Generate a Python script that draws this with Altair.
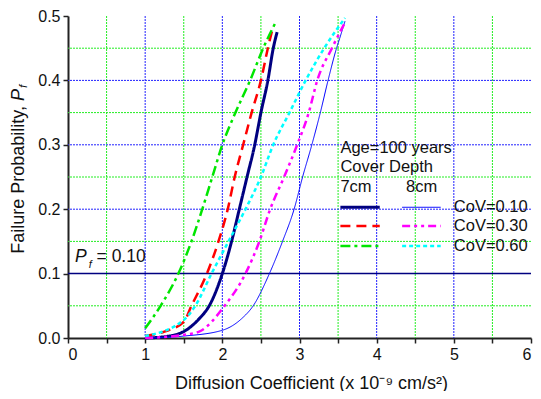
import altair as alt
import pandas as pd

FONT = "Liberation Sans, Arial, sans-serif"

# ---- data ----
series_names = ["7cm CoV=0.10", "7cm CoV=0.30", "7cm CoV=0.60",
                "8cm CoV=0.10", "8cm CoV=0.30", "8cm CoV=0.60"]

x_7_010 = [1.0, 1.25, 1.5, 1.7, 1.83, 2.0, 2.12, 2.22, 2.32, 2.42, 2.5, 2.59, 2.66, 2.71]
y_7_010 = [0.0, 0.002, 0.01, 0.03, 0.05, 0.1, 0.15, 0.2, 0.25, 0.3, 0.35, 0.4, 0.45, 0.475]

x_7_030 = [1.0, 1.25, 1.5, 1.6, 1.8, 1.95, 2.07, 2.16, 2.27, 2.38, 2.5, 2.59, 2.65]
y_7_030 = [0.003, 0.01, 0.025, 0.05, 0.1, 0.15, 0.2, 0.25, 0.3, 0.35, 0.4, 0.45, 0.48]

x_7_060 = [1.0, 1.2, 1.43, 1.6, 1.74, 1.87, 2.0, 2.17, 2.36, 2.53, 2.69]
y_7_060 = [0.015, 0.05, 0.1, 0.15, 0.2, 0.25, 0.3, 0.35, 0.4, 0.45, 0.49]

x_8_010 = [1.0, 1.5, 2.0, 2.25, 2.4, 2.61, 2.78, 2.93, 3.04, 3.16, 3.27, 3.37, 3.48, 3.52, 3.59]
y_8_010 = [0.0, 0.003, 0.012, 0.03, 0.05, 0.1, 0.15, 0.2, 0.25, 0.3, 0.35, 0.4, 0.45, 0.465, 0.492]

x_8_030 = [1.0, 1.5, 1.7, 2.03, 2.3, 2.48, 2.62, 2.8, 2.97, 3.12, 3.23, 3.42, 3.59]
y_8_030 = [0.0, 0.005, 0.01, 0.05, 0.1, 0.15, 0.2, 0.25, 0.3, 0.35, 0.4, 0.45, 0.49]

x_8_060 = [1.0, 1.5, 1.65, 1.86, 2.08, 2.3, 2.5, 2.66, 2.87, 3.08, 3.32, 3.59]
y_8_060 = [0.003, 0.028, 0.05, 0.1, 0.15, 0.2, 0.25, 0.3, 0.35, 0.4, 0.45, 0.497]

grid_major_x = [1, 2, 3, 4, 5]
grid_minor_x = [0.5, 1.5, 2.5, 3.5, 4.5, 5.5]
grid_major_y = [0.2, 0.3, 0.4]
grid_minor_y = [0.05, 0.15, 0.25, 0.35, 0.45]
pf_level = [0.1]

x_ticks = [0, 0.5, 1, 1.5, 2, 2.5, 3, 3.5, 4, 4.5, 5, 5.5, 6]
y_ticks = [0.0, 0.1, 0.2, 0.3, 0.4, 0.5]

cov_labels = ["CoV=0.10", "CoV=0.30", "CoV=0.60"]

# ---- styles ----
colors = ["#000080", "#ff0000", "#00e600", "#0000ff", "#ff00ff", "#00ffff"]
dashes = [[1, 0], [10, 6], [10, 4, 3, 4], [1, 0], [8, 4, 3, 4, 3, 4], [4, 3]]
widths = [3, 2.5, 2.5, 1, 2.5, 2.5]

xs_all = [x_7_010, x_7_030, x_7_060, x_8_010, x_8_030, x_8_060]
ys_all = [y_7_010, y_7_030, y_7_060, y_8_010, y_8_030, y_8_060]

XAX = alt.Axis(values=x_ticks,
               labelExpr="datum.value % 1 == 0 ? format(datum.value, 'd') : ''",
               title="Diffusion Coefficient (x 10⁻⁹ cm/s²)", titleX=243)
YAX = alt.Axis(values=y_ticks, format=".1f", title=None)
xscale = alt.Scale(domain=[0, 6], nice=False, zero=False)
yscale = alt.Scale(domain=[0, 0.5], nice=False, zero=False)


def X(f="x"):
    return alt.X(f"{f}:Q", scale=xscale, axis=XAX)


def Y(f="y"):
    return alt.Y(f"{f}:Q", scale=yscale, axis=YAX)


def vgrid(vals, color):
    return alt.Chart(pd.DataFrame({"x": vals})).mark_rule(
        color=color, strokeWidth=1, strokeDash=[2, 1]
    ).encode(x=X())


def hgrid(vals, color, dash=None, width=1):
    kw = {"color": color, "strokeWidth": width}
    if dash is not None:
        kw["strokeDash"] = dash
    return alt.Chart(pd.DataFrame({"y": vals})).mark_rule(**kw).encode(y=Y())


grids = [vgrid(grid_minor_x, "#22ee22"), vgrid(grid_major_x, "#2222ff"),
         hgrid(grid_minor_y, "#22ee22", [2, 1]), hgrid(grid_major_y, "#2222ff", [2, 1]),
         hgrid(pf_level, "#000080", None, 1.5)]

curves = []
for name, xs, ys, c, d, w in zip(series_names, xs_all, ys_all, colors, dashes, widths):
    sdf = pd.DataFrame({"x": xs, "y": ys})
    curves.append(alt.Chart(sdf).mark_line(
        interpolate="monotone", color=c, strokeDash=d, strokeWidth=w
    ).encode(x=X(), y=Y()))

# ---- hand-drawn legend (two columns of samples) ----
leg_y = [0.203, 0.174, 0.143]
leg_marks = []
for i, (c, d, w) in enumerate(zip(colors, dashes, widths)):
    col, row = i // 3, i % 3
    ldf = pd.DataFrame({"x": [3.53 if col == 0 else 4.33],
                        "x2": [4.04 if col == 0 else 4.83],
                        "y": [leg_y[row]]})
    leg_marks.append(alt.Chart(ldf).mark_rule(color=c, strokeDash=d, strokeWidth=w)
                     .encode(x=X(), x2="x2:Q", y=Y()))

text_rows = [
    {"t": "Age=100 years", "x": 3.53, "y": 0.295},
    {"t": "Cover Depth", "x": 3.53, "y": 0.265},
    {"t": "7cm", "x": 3.53, "y": 0.234},
    {"t": "8cm", "x": 4.38, "y": 0.234},
]
for lab, yy in zip(cov_labels, leg_y):
    text_rows.append({"t": lab, "x": 5.0, "y": yy})
leg_text = alt.Chart(pd.DataFrame(text_rows)).mark_text(
    align="left", baseline="middle", font=FONT, fontSize=16.5, color="#111"
).encode(x=X(), y=Y(), text="t:N")


def label(x, y, t, size, italic=False):
    kw = dict(align="left", baseline="middle", font=FONT, fontSize=size, color="#111")
    if italic:
        kw["fontStyle"] = "italic"
    return alt.Chart(pd.DataFrame({"x": [x], "y": [y], "t": [t]})).mark_text(**kw).encode(
        x=X(), y=Y(), text="t:N")


pf_marks = [label(0.09, 0.126, "P", 17.5, True), label(0.27, 0.114, "f", 11, True),
            label(0.37, 0.126, "= 0.10", 17.5)]


# ---- y-axis title with italic P and subscript f ----
def vtext(t, x, y, size, align, italic=False):
    kw = dict(angle=270, align=align, baseline="middle", font=FONT, fontSize=size, color="#111")
    if italic:
        kw["fontStyle"] = "italic"
    return alt.Chart(pd.DataFrame({"t": [t]})).mark_text(**kw).encode(
        x=alt.value(x), y=alt.value(y), text="t:N")


ytitle = [vtext("Failure Probability,", -49, 90, 18, "right"),
          vtext("P", -49, 85, 18, "left", True),
          vtext("f", -44, 72, 11.5, "left", True)]

chart = alt.layer(
    *grids, *curves, *leg_marks, leg_text, *pf_marks, *ytitle
).properties(
    width=463, height=322,
    padding={"left": 60, "top": 8, "right": 2, "bottom": 53},
    autosize=alt.AutoSizeParams(type="none"),
).configure_view(stroke=None).configure_axis(
    domainColor="#222", domainWidth=2, tickColor="#222", tickWidth=1.5, tickSize=5,
    labelFont=FONT, labelFontSize=16, labelColor="#111", labelPadding=3,
    titleFont=FONT, titleFontSize=18, titleFontWeight="normal", titleColor="#111",
    titlePadding=12, grid=False,
)

chart.save("out.html", embed_options={"renderer": "svg", "actions": False})
